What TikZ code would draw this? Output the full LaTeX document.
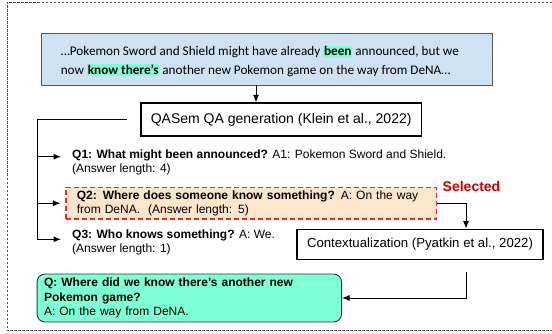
\documentclass[tikz,border=0pt]{standalone}
\usepackage{fontspec}
\setmainfont{Liberation Sans}
\newfontfamily\carlito{Carlito}
\usetikzlibrary{arrows.meta,shapes.misc}
\definecolor{boxblue}{HTML}{CFE2F3}
\definecolor{hl}{HTML}{7FFFD4}
\definecolor{peach}{HTML}{FCE5CD}
\definecolor{selred}{HTML}{CC0000}
\definecolor{dashred}{HTML}{E03030}
\definecolor{framegray}{HTML}{555555}
\newcommand{\hlw}[1]{{\setlength{\fboxsep}{0pt}\colorbox{hl}{\rule[-2.4pt]{0pt}{11.6pt}\hspace{0.8pt}\textbf{#1}\hspace{0.8pt}}}}
\begin{document}
\begin{tikzpicture}[x=1pt,y=1pt,
  arr/.style={-{Latex[length=7.5pt,width=6pt]}, line width=1pt},
  conn/.style={line width=1pt},
  stagebox/.style={draw, line width=1.7pt, inner sep=0pt, font=\fontsize{14}{16}\selectfont},
  qtext/.style={inner sep=0pt, align=left, anchor=west, font=\fontsize{12}{14}\selectfont},
]
\useasboundingbox (0,0) rectangle (552,-334);
\draw[framegray, line width=0.8pt, dash pattern=on 2.5pt off 1.5pt] (552,-2.5) -- (7,-2.5) -- (7,-330.5) -- (552,-330.5);

\node[chamfered rectangle, chamfered rectangle corners=north east, chamfered rectangle xsep=8pt, chamfered rectangle ysep=8pt, draw=framegray, fill=boxblue, line width=0.8pt, minimum width=451pt, minimum height=52pt, inner sep=0pt] (src) at (267.2,-59) {};
\node[inner sep=0pt, anchor=west, align=left, font=\carlito\fontsize{13.2}{18.5}\selectfont] (srctxt) at (60.6,-61.4) {…Pokemon Sword and Shield might have already \hlw{been} announced, but we\\ now \hlw{know there’s} another new Pokemon game on the way from DeNA…};

\node[stagebox, minimum width=280.7pt, minimum height=32.7pt] (qa) at (281.2,-119.6) {QASem QA generation (Klein et al., 2022)};
\coordinate (ax) at (256,0);
\draw[arr] (src.south -| ax) -- (qa.north -| ax);

\node[qtext] (q1) at (72,-162.5) {\textbf{Q1: What might been announced?} A1: Pokemon Sword and Shield.\\(Answer length: 4)};
\node[draw=dashred, fill=peach, line width=1.2pt, dash pattern=on 5pt off 3pt, minimum width=370.6pt, minimum height=31.7pt, text width=349pt, inner xsep=10.8pt, inner ysep=0pt, align=left, font=\fontsize{12}{14}\selectfont] (q2) at (251.3,-203.2) {\textbf{Q2: Where does someone know something?} A: On the way\\from DeNA.\ \ (Answer length: 5)};
\node[font=\bfseries\fontsize{14}{16}\selectfont, text=selred, inner sep=0pt] (sel) at (471.5,-186.7) {Selected};
\node[qtext] (q3) at (72,-242.2) {\textbf{Q3: Who knows something?} A: We.\\(Answer length: 1)};

\coordinate (b0) at (126.7,-119.3);
\coordinate (bl) at (37.7,-119.3);
\coordinate (t1) at (61,-156.7);
\coordinate (t3) at (61,-239.3);
\draw[arr] (b0) -- (bl) |- (t3);
\draw[arr] (bl |- t1) -- (t1);
\draw[arr] (bl |- q2.west) -- ([xshift=-5pt]q2.west);

\node[stagebox, line width=1.9pt, minimum width=246pt, minimum height=30pt, font=\fontsize{13.2}{15}\selectfont] (cx) at (420,-244.5) {Contextualization (Pyatkin et al., 2022)};
\node[draw=black!80, fill=hl, line width=0.9pt, rounded corners=8pt, minimum height=48pt, text width=290.5pt, inner xsep=7pt, inner ysep=0pt, align=left, font=\fontsize{12}{14.6}\selectfont] (ans) at (189.3,-298) {\textbf{Q: Where did we know there’s another new}\\\textbf{Pokemon game?}\\A: On the way from DeNA.};

\draw[arr] (q2.east) -| ([xshift=46pt]cx.north);
\draw[arr] ([xshift=46pt,yshift=-11.5pt]cx.south) |- (ans.east);
\end{tikzpicture}
\end{document}
